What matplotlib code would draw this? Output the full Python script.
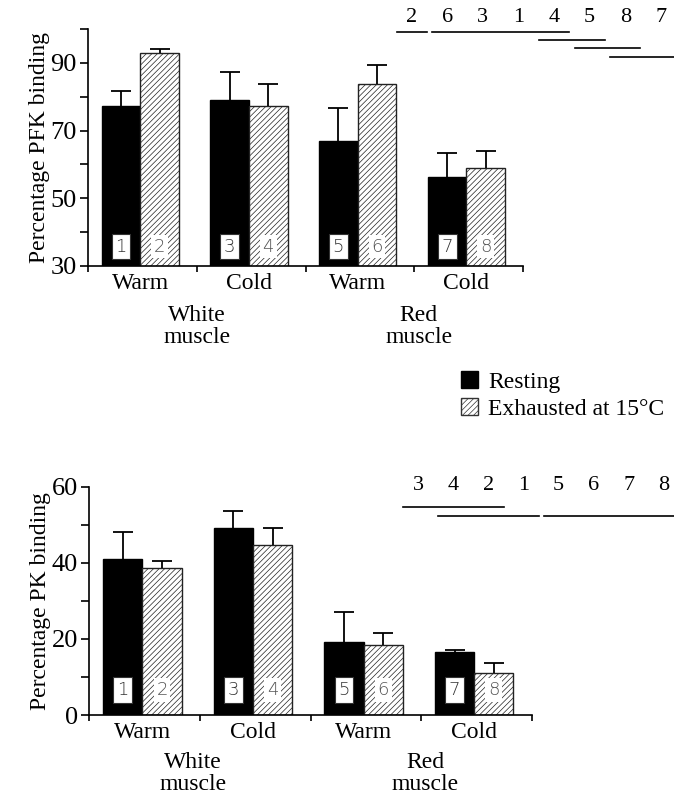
import matplotlib.pyplot as plt
from matplotlib.patches import Patch
import numpy as np

plt.rcParams['font.family'] = ['Liberation Serif', 'DejaVu Serif']
plt.rcParams['hatch.linewidth'] = 0.5

# --- data ---
conditions = ['Warm', 'Cold', 'Warm', 'Cold']
tissues = ['White\nmuscle', 'Red\nmuscle']
rest_ids = ['1', '3', '5', '7']
exh_ids = ['2', '4', '6', '8']

pfk_rest = [77.3, 79.0, 67.0, 56.4]
pfk_rest_err = [4.5, 8.4, 9.6, 6.9]
pfk_exh = [93.1, 77.3, 83.8, 58.9]
pfk_exh_err = [0.9, 6.5, 5.6, 5.1]

pk_rest = [41.0, 49.2, 19.3, 16.6]
pk_rest_err = [7.2, 4.4, 7.7, 0.6]
pk_exh = [38.7, 44.6, 18.4, 11.1]
pk_exh_err = [1.9, 4.5, 3.1, 2.6]

# ranking of groups and non-significant spans (first, last, row)
pfk_order = ['2', '6', '3', '1', '4', '5', '8', '7']
pfk_spans = [(0, 0, 0), (1, 4, 0), (4, 5, 1), (5, 6, 2), (6, 7, 3)]
pk_order = ['3', '4', '2', '1', '5', '6', '7', '8']
pk_spans = [(0, 2, 0), (1, 3, 1), (4, 7, 1)]

W, H = 674, 799
fig = plt.figure(figsize=(W / 100, H / 100), dpi=100)


def px(x, y):
    return x / W, 1 - y / H


def upper_err(ax, x, y, err):
    eb = ax.errorbar(x, y, yerr=[np.zeros(len(y)), err], fmt='none',
                     ecolor='black', elinewidth=1.3, capsize=7, capthick=1.3)
    eb[1][0].set_visible(False)  # drop the cap sitting on the bar top


def panel(rect, rest, rest_err, exh, exh_err, ylim, major, minor, ylabel,
          id_y, tissue_x):
    ax = fig.add_axes(rect)
    x = np.arange(4) + 0.48
    w = 0.355
    ax.bar(x - w / 2, rest, w, color='black', edgecolor='black', lw=1)
    ax.bar(x + w / 2, exh, w, color='white', edgecolor='#222', lw=1,
           hatch='//////')
    upper_err(ax, x - w / 2, rest, rest_err)
    upper_err(ax, x + w / 2, exh, exh_err)

    for i in range(4):
        ax.text(x[i] - w / 2, id_y, rest_ids[i], ha='center', va='center',
                fontsize=13, family='DejaVu Sans', fontweight='light',
                color='#333',
                bbox=dict(boxstyle='square,pad=0.2', fc='white', ec='#333',
                          lw=0.8))
        ax.text(x[i] + w / 2, id_y, exh_ids[i], ha='center', va='center',
                fontsize=13, family='DejaVu Sans', fontweight='light',
                color='#555',
                bbox=dict(boxstyle='square,pad=0.15', fc='white', ec='none'))

    ax.set_xlim(0, 4)
    ax.set_ylim(*ylim)
    ax.spines['top'].set_visible(False)
    ax.spines['right'].set_visible(False)
    ax.spines['left'].set_linewidth(1.2)
    ax.spines['bottom'].set_linewidth(1.2)
    ax.set_yticks(major)
    ax.set_yticks(minor, minor=True)
    ax.set_xticks([0, 1, 2, 3, 4])
    ax.set_xticklabels([])
    ax.set_xticks(x, minor=True)
    ax.set_xticklabels(conditions, minor=True, fontsize=17)
    ax.tick_params(axis='x', which='minor', length=0, pad=5)
    ax.tick_params(axis='x', which='major', length=4, width=1.2)
    ax.tick_params(axis='y', which='both', length=6, width=1.2, labelsize=19,
                   pad=2)
    ax.set_ylabel(ylabel, fontsize=17)
    ax.yaxis.set_label_coords(-0.087, 0.5)
    for j, t in enumerate(tissues):
        ax.text(tissue_x[j], -0.255, t, transform=ax.get_xaxis_transform(),
                ha='center', va='center', fontsize=17, linespacing=1.05)
    return ax


panel([0.1306, 0.6671, 0.6454, 0.2964], pfk_rest, pfk_rest_err, pfk_exh,
      pfk_exh_err, (30, 100), [30, 50, 70, 90], [40, 60, 80, 100],
      'Percentage PFK binding', 35.7, [1.0, 3.04])
panel([0.1325, 0.1051, 0.6564, 0.2856], pk_rest, pk_rest_err, pk_exh,
      pk_exh_err, (0, 60), [0, 20, 40, 60], [10, 30, 50],
      'Percentage PK binding', 6.6, [0.94, 3.04])


def ranking(order, spans, x0, step, ytext, yline, dy):
    for k, lab in enumerate(order):
        fig.text(*px(x0 + k * step, ytext), lab, ha='center', va='center',
                 fontsize=16)
    for a, b, row in spans:
        xa, ya = px(x0 + a * step - 15, yline + row * dy)
        xb, _ = px(x0 + b * step + 15, yline + row * dy)
        fig.add_artist(plt.Line2D([xa, xb], [ya, ya], color='black', lw=1.2))


ranking(pfk_order, pfk_spans, 411.7, 35.6, 18, 32, 8.2)
ranking(pk_order, pk_spans, 418.3, 35.1, 486, 507.3, 8.4)

handles = [Patch(fc='black', ec='black'),
           Patch(fc='white', ec='#333', hatch='//////')]
fig.legend(handles, ['Resting', 'Exhausted at 15°C'], loc='upper left',
           bbox_to_anchor=px(461, 371), frameon=False, fontsize=17,
           handlelength=0.7, handleheight=0.7, handletextpad=0.45,
           labelspacing=0.25, borderpad=0, borderaxespad=0)

fig.savefig('out.png', dpi=100)
